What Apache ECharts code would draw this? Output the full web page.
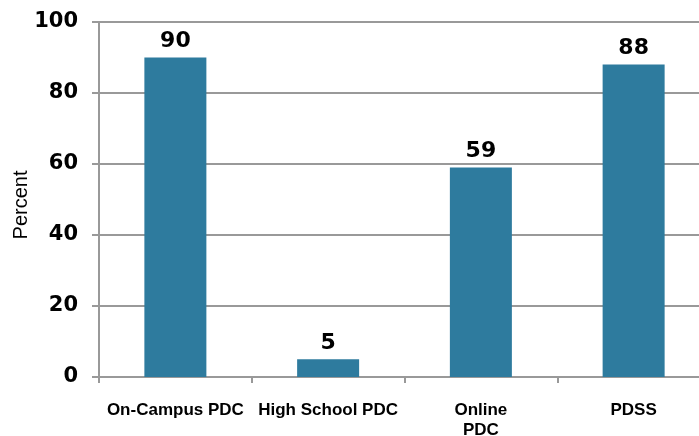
<!DOCTYPE html>
<html>
<head>
<meta charset="utf-8">
<script src="https://cdn.jsdelivr.net/npm/echarts@6/dist/echarts.min.js"></script>
<style>
  html, body { margin: 0; padding: 0; background: #fff; overflow: hidden; }
  #main { width: 699px; height: 436px; }
</style>
</head>
<body>
<div id="main"></div>
<script>
// categories and values
const programs = ['On-Campus PDC', 'High School PDC', 'Online\nPDC', 'PDSS'];
const percents = [90, 5, 59, 88];
const yTicks = [0, 20, 40, 60, 80, 100];

const numFont = 'DejaVu Sans';
const textFont = 'Liberation Sans';

var myChart = echarts.init(document.getElementById('main'));

const option = {
  animation: false,
  // plot area runs a little past the right edge in the original
  grid: { left: 99, right: -11, top: 22, bottom: 59, containLabel: false, outerBoundsMode: 'none' },
  xAxis: {
    type: 'category',
    data: programs,
    axisLine: { lineStyle: { color: '#999', width: 2 } },
    axisTick: { show: true, length: 6, lineStyle: { color: '#999', width: 2 } },
    axisLabel: {
      interval: 0,
      margin: 23,
      color: '#000',
      fontFamily: textFont,
      fontWeight: 'bold',
      fontSize: 17,
      lineHeight: 20
    }
  },
  yAxis: {
    type: 'value',
    min: yTicks[0],
    max: yTicks[yTicks.length - 1],
    interval: 20,
    name: 'Percent',
    nameLocation: 'middle',
    nameRotate: 90,
    nameGap: 68,
    nameMoveOverlap: false,
    nameTextStyle: { color: '#000', fontFamily: textFont, fontSize: 20, padding: [0, 11, 0, 0] },
    axisLine: { show: true, lineStyle: { color: '#999', width: 2 } },
    axisTick: { show: true, length: 7, lineStyle: { color: '#999', width: 2 } },
    splitLine: { show: true, lineStyle: { color: '#999', width: 2 } },
    axisLabel: {
      margin: 21,
      color: '#000',
      fontFamily: numFont,
      fontWeight: 'bold',
      fontSize: 21
    }
  },
  series: [{
    type: 'bar',
    data: percents,
    barWidth: 62,
    itemStyle: { color: '#2e7b9e' },
    label: {
      show: true,
      position: 'top',
      distance: 5,
      color: '#000',
      fontFamily: numFont,
      fontWeight: 'bold',
      fontSize: 22
    }
  }]
};

myChart.setOption(option);
</script>
</body>
</html>
